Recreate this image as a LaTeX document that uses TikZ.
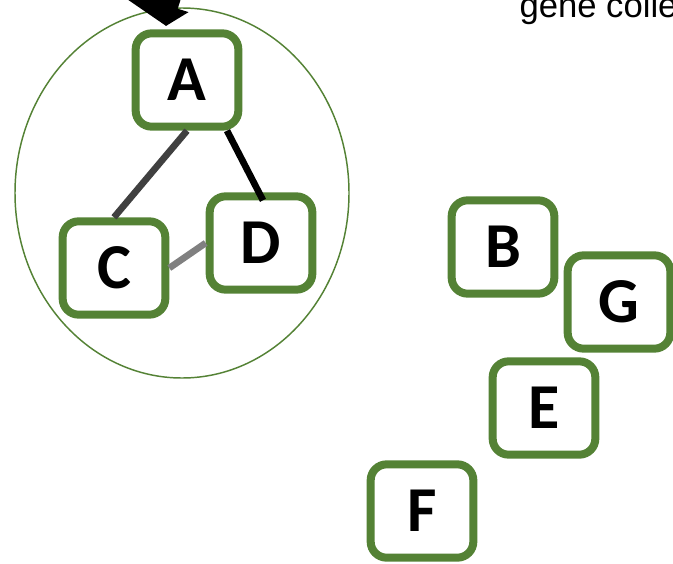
\documentclass[tikz,border=0pt]{standalone}
\usepackage{fontspec}
\setsansfont{Carlito}
\newfontfamily\labelfont{Liberation Sans}
\usetikzlibrary{arrows.meta}

\definecolor{genegreen}{RGB}{84,130,53}
\definecolor{edgedark}{RGB}{64,64,64}
\definecolor{edgelight}{RGB}{128,128,128}

\tikzset{every picture/.style={line width=0.75pt}}
\tikzset{
  gene/.style={draw=genegreen, line width=6pt, rounded corners=12pt, fill=white,
    minimum width=77pt, minimum height=70pt, inner sep=0pt,
    font=\sffamily\bfseries\fontsize{48}{48}\selectfont},
  link/.style={line width=5pt, line cap=butt}
}

\begin{document}
\begin{tikzpicture}[x=0.75pt,y=0.75pt,yscale=-1,xscale=1]
\clip (0,0) rectangle (673,563);

%Shape: Ellipse (cluster)
\draw [color=genegreen, line width=1.1pt] (182,193) ellipse [x radius=167, y radius=185];

%Arrows into the cluster
\coordinate (tip) at (166,26);
\coordinate (tailL) at (129,-120);
\coordinate (tailR) at (211,-117);
\draw [line width=15pt, -{Triangle[length=28.5pt,width=48pt]}] (tailL) -- (tip);
\draw [line width=9pt, -{Triangle[length=15pt,width=25pt]}] (tailR) -- (tip);

% Gene nodes
\node [gene] (A) at (187,80) {A};
\node [gene] (C) at (114,268) {C};
\node [gene] (D) at (261,243) {D};
\node [gene] (B) at (503,247) {B};
\node [gene] (G) at (619,302) {G};
\node [gene] (E) at (544,408) {E};
\node [gene] (F) at (422,511) {F};

% Links
\draw [link, color=edgedark] (A.south) -- (C.north);
\draw [link, color=black] ([xshift=30pt]A.south) -- ([xshift=1.5pt,yshift=6pt]D.north);
\draw [link, color=edgelight] (D.west) -- (C.east);

% Text Node
\node [anchor=base west, inner sep=0pt, font=\labelfont\fontsize{26}{28}\selectfont] (title) at (519,18) {gene collection};
\end{tikzpicture}
\end{document}
